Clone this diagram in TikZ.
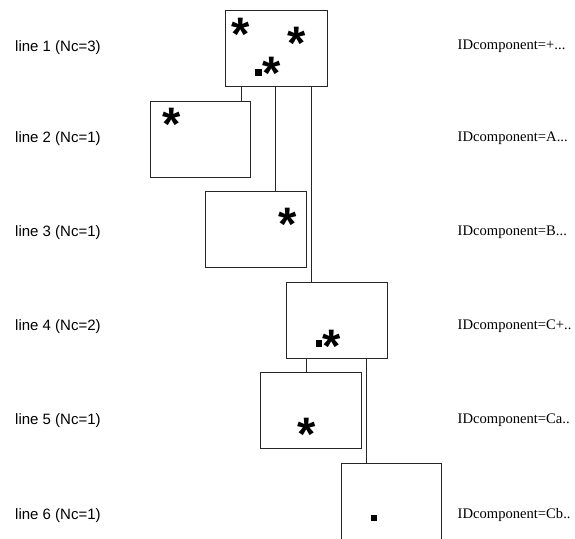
\documentclass[tikz,border=0pt]{standalone}
\usepackage{fontspec}
\setmainfont{Liberation Serif}
\newfontfamily\arialf{Liberation Sans}
\begin{document}
\begin{tikzpicture}[x=1pt,y=-1pt,
  box/.style={draw=black!85,line width=0.8pt,anchor=north west,inner sep=0pt,minimum width=#1,minimum height=75.5pt},
  box/.default=101pt,
  conn/.style={draw=black!85,line width=0.8pt},
  starnode/.style={inner sep=0pt,anchor=base,font=\arialf\bfseries\fontsize{47}{47}\selectfont},
  sq/.style={fill=black,inner sep=0pt,minimum size=6.5pt},
  lab/.style={anchor=west,inner sep=0pt,font=\arialf\fontsize{15}{18}\selectfont},
  idl/.style={anchor=west,inner sep=0pt,font=\fontsize{14.6}{18}\selectfont}]
\useasboundingbox (0,0) rectangle (575,538);
% boxes
\node[box=102pt] (b1) at (225,10) {};
\node[box=100pt] (b2) at (150,101) {};
\node[box] (b3) at (205,191) {};
\node[box] (b4) at (286,282) {};
\node[box] (b5) at (260,372) {};
\node[box=100pt] (b6) at (341,463) {};
% connectors
\draw[conn] (b1.south -| 241,0) -- (b2.north -| 241,0);
\draw[conn] (b1.south -| 275.5,0) -- (b3.north -| 275.5,0);
\draw[conn] (b1.south -| 311,0) -- (b4.north -| 311,0);
\draw[conn] (b4.south -| 306,0) -- (b5.north -| 306,0);
\draw[conn] (b4.south -| 366,0) -- (b6.north -| 366,0);
% stars
\node[starnode] (st1) at (241,27+23.5) {*};
\node[starnode] (st2) at (297,36+23.5) {*};
\node[starnode] (st3) at (272,66+23.5) {*};
\node[starnode] (st4) at (172,117+23.5) {*};
\node[starnode] (st5) at (288,217+23.5) {*};
\node[starnode] (st6) at (332,339+23.5) {*};
\node[starnode] (st7) at (307,427+23.5) {*};
% squares
\node[sq] (q1) at (258.5,72.5) {};
\node[sq] (q2) at (319,343.5) {};
\node[sq] (q3) at (374,518) {};
% left labels
\node[lab] (l1) at (15,47.5) {line 1 (Nc=3)};
\node[lab] (l2) at (15,139) {line 2 (Nc=1)};
\node[lab] (l3) at (15,233) {line 3 (Nc=1)};
\node[lab] (l4) at (15,327) {line 4 (Nc=2)};
\node[lab] (l5) at (15,421) {line 5 (Nc=1)};
\node[lab] (l6) at (15,516) {line 6 (Nc=1)};
% right labels
\node[idl] (r1) at (457.5,46.5) {IDcomponent=+...};
\node[idl] (r2) at (457.5,138) {IDcomponent=A...};
\node[idl] (r3) at (457.5,232) {IDcomponent=B...};
\node[idl] (r4) at (457.5,326) {IDcomponent=C+..};
\node[idl] (r5) at (457.5,420) {IDcomponent=Ca..};
\node[idl] (r6) at (457.5,515) {IDcomponent=Cb..};
\end{tikzpicture}
\end{document}
